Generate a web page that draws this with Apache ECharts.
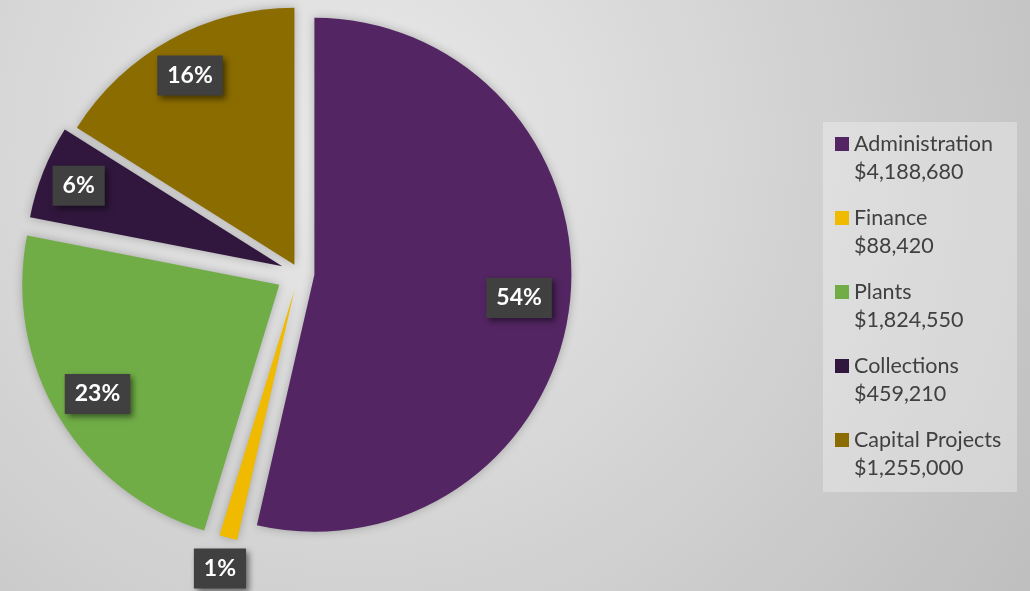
<!DOCTYPE html>
<html>
<head>
<meta charset="utf-8">
<script src="https://cdn.jsdelivr.net/npm/echarts@6/dist/echarts.min.js"></script>
<style>
  html, body { margin: 0; padding: 0; }
  #chart { width: 1030px; height: 591px; }
</style>
</head>
<body>
<div id="chart"></div>
<script>
const categories = ["Administration", "Finance", "Plants", "Collections", "Capital Projects"];
const amounts = [4188680, 88420, 1824550, 459210, 1255000];
const colors = ["#532562", "#f0ba00", "#70ad47", "#31173e", "#8b6c00"];
// explosion of each slice (px) and where its % box sits relative to the rim
const explode = [15.5, 17, 23, 18, 9.5];
const labelShift = [-51, 32, -45, -38, -41];

const chart = echarts.init(document.getElementById("chart"));

const fmtMoney = (v) => "$" + v.toLocaleString("en-US");

const labelStyle = {
    position: "outside",
    distanceToLabelLine: 0,
    formatter: (p) => Math.round(p.percent) + "%",
    color: "#ffffff",
    fontFamily: "Lato",
    fontWeight: "bold",
    fontSize: 23,
    lineHeight: 24,
    backgroundColor: "#404040",
    padding: [9, 10, 7, 10],
    shadowBlur: 6,
    shadowOffsetX: 3,
    shadowOffsetY: 3,
    shadowColor: "rgba(0,0,0,0.5)",
};

// one pie per slice so every slice can have its own explosion
const series = categories.map((cat, k) => ({
    type: "pie",
    name: cat,
    center: [299, 273],
    radius: 257,
    startAngle: 90,
    selectedMode: "multiple",
    selectedOffset: explode[k],
    avoidLabelOverlap: false,
    emphasis: { scale: false },
    select: { itemStyle: { borderWidth: 0 } },
    label: labelStyle,
    labelLayout: () => ({ align: "center" }),
    z: 2,
    data: categories.map((name, i) => ({
        name: name,
        value: amounts[i],
        selected: i === k,
        itemStyle:
            i === k
                ? { color: colors[i], shadowBlur: 10, shadowColor: "rgba(0,0,0,0.25)" }
                : { color: "rgba(0,0,0,0)" },
        label: { show: i === k },
        labelLine: { show: false, length: labelShift[i], length2: 0 },
    })),
}));

const option = {
    backgroundColor: {
        type: "radial",
        x: 0.35,
        y: 0.25,
        r: 1.37,
        colorStops: [
            { offset: 0, color: "#eaeaea" },
            { offset: 1, color: "#bebebe" },
        ],
    },
    animation: false,
    graphic: [
        {
            type: "rect",
            shape: { x: 823, y: 122, width: 194, height: 370 },
            style: { fill: "rgba(255,255,255,0.3)" },
            z: 0,
        },
    ],
    legend: {
        orient: "vertical",
        left: 835,
        top: 102,
        padding: 0,
        itemGap: -10,
        icon: "rect",
        itemWidth: 14,
        itemHeight: 14,
        data: categories.map((name, i) => ({
            name: name,
            itemStyle: { color: colors[i], opacity: 1 },
        })),
        formatter: (name) => {
            const i = categories.indexOf(name);
            return "{n|" + name + "}\n{v|" + fmtMoney(amounts[i]) + "}";
        },
        textStyle: {
            color: "#404040",
            fontFamily: "Lato",
            fontSize: 21.5,
            padding: [28, 0, 0, 0],
            backgroundColor: "rgba(0,0,0,0)",
            rich: {
                n: { fontFamily: "Lato", fontSize: 21.5, color: "#404040", lineHeight: 28 },
                v: { fontFamily: "Lato", fontSize: 21.5, color: "#404040", lineHeight: 28 },
            },
        },
    },
    series: series,
};

chart.setOption(option);
</script>
</body>
</html>
